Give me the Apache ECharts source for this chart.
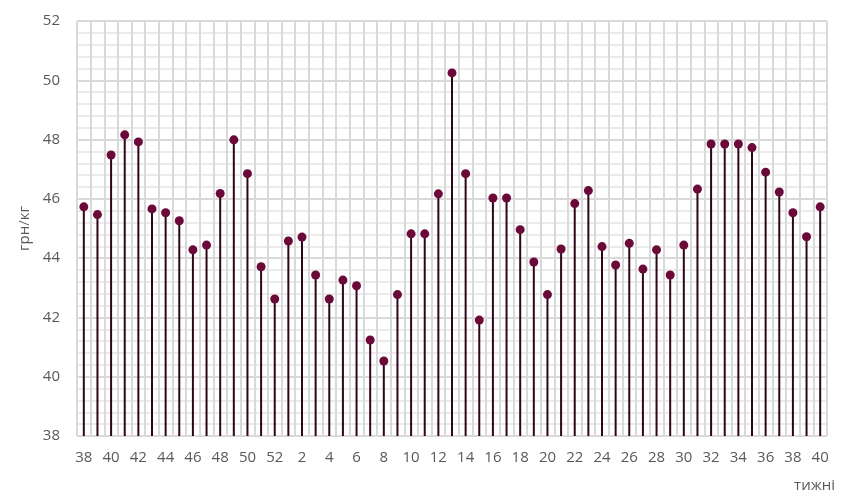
<!DOCTYPE html>
<html>
<head>
<meta charset="utf-8">
<script src="https://cdn.jsdelivr.net/npm/echarts@6/dist/echarts.min.js"></script>
<style>html,body{margin:0;padding:0;background:#fff;}#c{width:857px;height:501px;}</style>
</head>
<body>
<div id="c"></div>
<script>
const weeks = ['38','39','40','41','42','43','44','45','46','47','48','49','50','51','52',
  '1','2','3','4','5','6','7','8','9','10','11','12','13','14','15','16','17','18','19','20',
  '21','22','23','24','25','26','27','28','29','30','31','32','33','34','35','36','37','38','39','40'];
const prices = [45.73,45.47,47.48,48.16,47.92,45.66,45.53,45.26,44.28,44.44,46.18,47.99,46.85,43.71,42.62,
  44.58,44.71,43.43,42.62,43.26,43.07,41.24,40.53,42.77,44.82,44.82,46.17,50.25,46.85,41.91,46.03,46.03,44.96,43.87,42.77,
  44.31,45.84,46.28,44.39,43.77,44.5,43.63,44.28,43.43,44.44,46.33,47.85,47.85,47.85,47.73,46.9,46.23,45.53,44.72,45.73];
const yTicks = {min:38, max:52, interval:2};

const chart = echarts.init(document.getElementById('c'));
chart.setOption({
  animation:false,
  backgroundColor:'#fff',
  grid:{left:77, right:30, top:21, bottom:65},
  xAxis:{
    type:'category', data:weeks, boundaryGap:true,
    axisLine:{show:false}, axisTick:{show:false},
    axisLabel:{interval:1, color:'#595959', fontSize:15, fontFamily:'Open Sans', margin:14},
    splitLine:{show:true, interval:0, lineStyle:{color:'#d9d9d9', width:2}}
  },
  yAxis:{
    type:'value', min:yTicks.min, max:yTicks.max, interval:yTicks.interval,
    axisLine:{show:false}, axisTick:{show:false},
    axisLabel:{color:'#595959', fontSize:15, fontFamily:'Open Sans', margin:17},
    splitLine:{show:true, lineStyle:{color:'#d9d9d9', width:2}},
    minorTick:{show:false, splitNumber:5},
    minorSplitLine:{show:true, lineStyle:{color:'#ebebeb', width:2}},
    name:'грн/кг', nameLocation:'middle', nameRotate:90, nameGap:44,
    nameTextStyle:{color:'#595959', fontSize:15, fontFamily:'Open Sans'}
  },
  graphic:[{type:'text', right:22, top:478, style:{text:'тижні', fill:'#595959', font:'15px "Open Sans"'}}],
  series:[
    {type:'bar', data:prices, barWidth:2, itemStyle:{color:'#2f0518'}, silent:true},
    {type:'scatter', data:prices, symbolSize:9, itemStyle:{color:'#6b0a39', opacity:1}, z:5}
  ]
});
</script>
</body>
</html>
